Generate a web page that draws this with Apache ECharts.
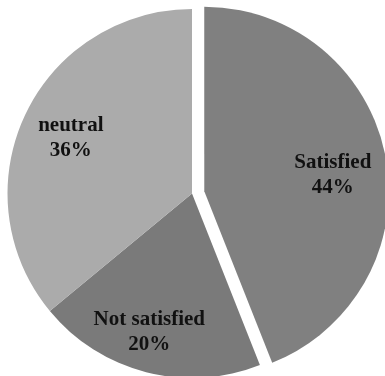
<!DOCTYPE html>
<html>
<head>
<meta charset="utf-8">
<script src="https://cdn.jsdelivr.net/npm/echarts@6/dist/echarts.min.js"></script>
<style>
html,body{margin:0;padding:0;background:#fff;}
#chart1{width:385px;height:376px;}
</style>
</head>
<body>
<div id="chart1"></div>
<script>
var categories=['Satisfied','Not satisfied','neutral'];
var values=[44,20,36];
var sliceColors=['#808080','#7a7a7a','#ababab'];
var labelOffsets=[[35,2],[-19,46],[-35,-15]];  //label nudges, like excel places them

var chart1=echarts.init(document.getElementById('chart1'));
var pieData=[];
for(var i=0;i<categories.length;i++){
    pieData.push({
        name:categories[i],
        value:values[i],
        selected:i==0,  //Satisfied is pulled out
        itemStyle:{color:sliceColors[i]},
        label:{offset:labelOffsets[i]},
        select:{
            itemStyle:{color:sliceColors[i],borderWidth:0},
            label:{offset:labelOffsets[i]}
        }
    });
}
var option={
    animation:false,
    series:[
        {
            type:'pie',
            center:[192,193.5],
            radius:184.5,
            startAngle:90,
            clockwise:true,
            selectedMode:'single',
            selectedOffset:12.5,
            itemStyle:{borderWidth:0},
            emphasis:{disabled:true},
            label:{
                show:true,
                position:'inside',
                formatter:'{b}\n{d}%',
                fontFamily:'Liberation Serif',
                fontWeight:'bold',
                fontSize:21,
                lineHeight:25,
                color:'#111'
            },
            labelLine:{show:false},
            data:pieData
        }
    ]
};
chart1.setOption(option);
</script>
</body>
</html>
